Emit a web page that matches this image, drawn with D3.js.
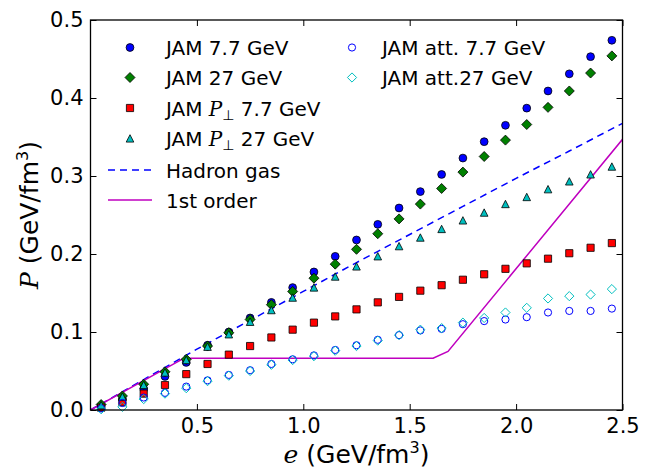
<!DOCTYPE html>
<html><head><meta charset="utf-8">
<script src="https://cdn.jsdelivr.net/npm/d3@7"></script>
<style>
body{margin:0;background:#fff}
svg text{font-family:'DejaVu Sans',sans-serif;fill:#000}
</style></head>
<body><svg id="chart" width="653" height="470"></svg>
<script>
// ---- data ----
const energy = [0.05,0.15,0.25,0.35,0.45,0.55,0.65,0.75,0.85,0.95,1.05,1.15,1.25,1.35,1.45,1.55,1.65,1.75,1.85,1.95,2.05,2.15,2.25,2.35,2.45];
const jam77 = [0.004,0.014,0.027,0.043,0.061,0.083,0.100,0.118,0.138,0.157,0.177,0.197,0.218,0.238,0.259,0.280,0.302,0.323,0.344,0.365,0.387,0.409,0.431,0.453,0.474];
const jam27 = [0.007,0.018,0.033,0.049,0.065,0.082,0.099,0.116,0.135,0.152,0.169,0.187,0.206,0.226,0.245,0.264,0.284,0.305,0.325,0.346,0.366,0.388,0.409,0.432,0.454];
const jamPerp77 = [0.003,0.010,0.021,0.032,0.046,0.059,0.071,0.082,0.093,0.103,0.112,0.120,0.129,0.138,0.145,0.153,0.160,0.167,0.174,0.181,0.188,0.194,0.201,0.208,0.214];
const jamPerp27 = [0.006,0.017,0.032,0.048,0.064,0.081,0.097,0.113,0.128,0.144,0.157,0.171,0.184,0.197,0.210,0.221,0.232,0.243,0.253,0.264,0.273,0.283,0.293,0.302,0.312];
const jamAtt77 = [0.002,0.009,0.016,0.022,0.030,0.038,0.045,0.051,0.059,0.065,0.070,0.077,0.083,0.090,0.096,0.102,0.104,0.110,0.114,0.116,0.119,0.125,0.127,0.127,0.130];
const jamAtt27 = [0.001,0.004,0.014,0.021,0.028,0.037,0.044,0.050,0.058,0.064,0.069,0.076,0.082,0.089,0.096,0.103,0.105,0.112,0.118,0.125,0.131,0.143,0.146,0.148,0.155];
const hadronE = [0,0.25,0.5,0.75,1.0,1.25,1.5,1.75,2.0,2.25,2.5];
const hadronP = [0,0.039,0.078,0.115,0.152,0.189,0.225,0.261,0.297,0.332,0.3675];
const firstE = [0,0.40,0.43,0.47,1.61,1.68,2.5];
const firstP = [0,0.0605,0.065,0.0663,0.0663,0.075,0.347];
const xTicks = [0.5,1.0,1.5,2.0,2.5];
const yTicks = [0.0,0.1,0.2,0.3,0.4,0.5];

// ---- layout ----
const svg = d3.select('#chart');
const L=90.5, R=622.5, T=20, B=410;
const x = d3.scaleLinear().domain([0,2.5]).range([L,R]);
const y = d3.scaleLinear().domain([0,0.5]).range([B,T]);

const BLUE='#0000ff', GREEN='#008000', RED='#ff0000', CYAN='#00bfbf', MAG='#bf00bf';

// markers
function markerPath(kind){
  if(kind==='circle') return d3.symbol(d3.symbolCircle, Math.PI*3.9*3.9)();
  if(kind==='diamond') return 'M0,-5L5,0L0,5L-5,0Z';
  if(kind==='square') return 'M-3.6,-3.6H3.6V3.6H-3.6Z';
  if(kind==='triangle') return 'M0,-3.8L3.8,3.6L-3.8,3.6Z';
  if(kind==='ocircle') return d3.symbol(d3.symbolCircle, Math.PI*3.6*3.6)();
  if(kind==='odiamond') return 'M0,-4.6L4.6,0L0,4.6L-4.6,0Z';
}
const series = [
  {vals:jam77, kind:'circle', fill:BLUE, stroke:'#000', sw:0.8},
  {vals:jam27, kind:'diamond', fill:GREEN, stroke:'#000', sw:0.8},
  {vals:jamPerp77, kind:'square', fill:RED, stroke:'#000', sw:0.8},
  {vals:jamPerp27, kind:'triangle', fill:CYAN, stroke:'#000', sw:0.8},
  {vals:jamAtt77, kind:'ocircle', fill:'none', stroke:BLUE, sw:1},
  {vals:jamAtt27, kind:'odiamond', fill:'none', stroke:CYAN, sw:1}
];

const line = d3.line().x(d=>x(d[0])).y(d=>y(d[1]));
const plot = svg.append('g');
svg.append('clipPath').attr('id','cp').append('rect').attr('x',L).attr('y',T).attr('width',R-L).attr('height',B-T);
plot.attr('clip-path','url(#cp)');

plot.append('path').attr('d', line(hadronE.map((e,i)=>[e,hadronP[i]])))
  .attr('fill','none').attr('stroke',BLUE).attr('stroke-width',1.5).attr('stroke-dasharray','7,5');
plot.append('path').attr('d', line(firstE.map((e,i)=>[e,firstP[i]])))
  .attr('fill','none').attr('stroke',MAG).attr('stroke-width',1.5);

series.forEach(s=>{
  svg.append('g').selectAll('path').data(s.vals).join('path')
    .attr('d', markerPath(s.kind))
    .attr('transform',(d,i)=>`translate(${x(energy[i])},${y(d)})`)
    .attr('fill',s.fill).attr('stroke',s.stroke).attr('stroke-width',s.sw);
});

// axes
const ax = svg.append('g').attr('transform',`translate(0,${B})`)
  .call(d3.axisBottom(x).tickValues(xTicks).tickFormat(d3.format('.1f')).tickSizeInner(-6).tickSizeOuter(0).tickPadding(8));
const ay = svg.append('g').attr('transform',`translate(${L},0)`)
  .call(d3.axisLeft(y).tickValues(yTicks).tickFormat(d3.format('.1f')).tickSizeInner(-6).tickSizeOuter(0).tickPadding(7));
const axT = svg.append('g').attr('transform',`translate(0,${T})`)
  .call(d3.axisTop(x).tickValues(xTicks).tickFormat('').tickSizeInner(-6).tickSizeOuter(0));
const ayR = svg.append('g').attr('transform',`translate(${R},0)`)
  .call(d3.axisRight(y).tickValues(yTicks).tickFormat('').tickSizeInner(-6).tickSizeOuter(0));
[ax,ay,axT,ayR].forEach(g=>{
  g.select('.domain').remove();
  g.selectAll('line').attr('stroke','#000').attr('stroke-width',1);
  g.selectAll('text').attr('font-size',21).attr('font-family',"'DejaVu Sans',sans-serif").attr('fill','#000');
});
svg.append('rect').attr('x',L).attr('y',T).attr('width',R-L).attr('height',B-T)
  .attr('fill','none').attr('stroke','#000').attr('stroke-width',1.3);

// axis labels
const xl = svg.append('text').attr('x',(L+R)/2).attr('y',463).attr('text-anchor','middle').attr('font-size',25);
xl.append('tspan').attr('font-family',"'DejaVu Serif',serif").attr('font-style','italic').text('e');
xl.append('tspan').text('\u00a0(GeV/fm');
xl.append('tspan').attr('font-size',16).attr('dy',-10).text('3');
xl.append('tspan').attr('dy',10).text(')');

const yl = svg.append('text').attr('transform',`translate(38,${(T+B)/2}) rotate(-90)`).attr('text-anchor','middle').attr('font-size',25);
yl.append('tspan').attr('font-family',"'DejaVu Serif',serif").attr('font-style','italic').text('P');
yl.append('tspan').text('\u00a0(GeV/fm');
yl.append('tspan').attr('font-size',16).attr('dy',-10).text('3');
yl.append('tspan').attr('dy',10).text(')');

// legend
const legendCol1 = [
  {kind:'circle', s:0, label:['JAM 7.7 GeV']},
  {kind:'diamond', s:1, label:['JAM 27 GeV']},
  {kind:'square', s:2, label:['JAM ', 'P', '⊥', ' 7.7 GeV']},
  {kind:'triangle', s:3, label:['JAM ', 'P', '⊥', ' 27 GeV']},
  {line:'dash', label:['Hadron gas']},
  {line:'solid', label:['1st order']}
];
const legendCol2 = [
  {kind:'ocircle', s:4, label:['JAM att. 7.7 GeV']},
  {kind:'odiamond', s:5, label:['JAM att.27 GeV']}
];
const rowY = [47.5,77.5,108,138.5,170,200];
function legendText(g, xx, yy, parts){
  const t = g.append('text').attr('x',xx).attr('y',yy+7.5).attr('font-size',20);
  if(parts.length===1){ t.text(parts[0]); return; }
  t.append('tspan').text(parts[0].replace(/ $/,'\u00a0'));
  t.append('tspan').attr('font-family',"'DejaVu Serif',serif").attr('font-style','italic').text(parts[1]);
  t.append('tspan').attr('font-size',14).attr('dy',4).text(parts[2]);
  t.append('tspan').attr('dy',-4).text(parts[3].replace(/^ /,'\u00a0'));
}
const lg = svg.append('g');
legendCol1.forEach((it,i)=>{
  const yy=rowY[i];
  if(it.line){
    lg.append('line').attr('x1',108).attr('x2',152).attr('y1',yy).attr('y2',yy)
      .attr('stroke', it.line==='dash'?BLUE:MAG).attr('stroke-width',1.5)
      .attr('stroke-dasharray', it.line==='dash'?'7,5':null);
  } else {
    const s=series[it.s];
    lg.append('path').attr('d',markerPath(it.kind)).attr('transform',`translate(130,${yy})`)
      .attr('fill',s.fill).attr('stroke',s.stroke).attr('stroke-width',s.sw);
  }
  legendText(lg,166,yy,it.label);
});
legendCol2.forEach((it,i)=>{
  const yy=rowY[i]; const s=series[it.s];
  lg.append('path').attr('d',markerPath(it.kind)).attr('transform',`translate(352,${yy})`)
    .attr('fill',s.fill).attr('stroke',s.stroke).attr('stroke-width',s.sw);
  legendText(lg,382,yy,it.label);
});
</script></body></html>
